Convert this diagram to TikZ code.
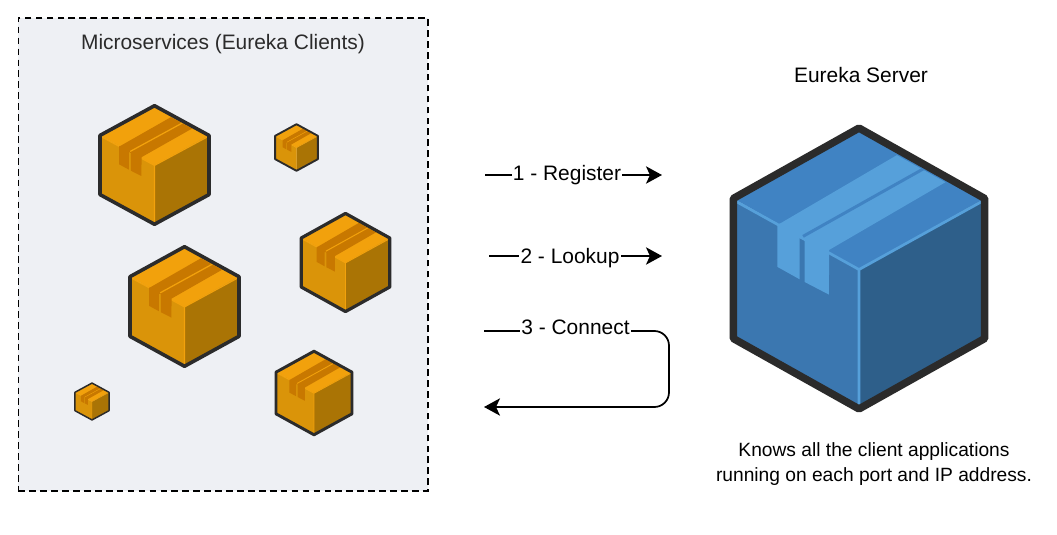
\documentclass[tikz,border=0pt]{standalone}
\usepackage{fontspec}
\setmainfont{Liberation Sans}
\usetikzlibrary{arrows.meta}
\definecolor{panelfill}{HTML}{EEF0F4}
\definecolor{inkc}{HTML}{2B2B2B}
\definecolor{otop}{HTML}{F2A10C}
\definecolor{oleft}{HTML}{DA9409}
\definecolor{oright}{HTML}{AA7405}
\definecolor{otape}{HTML}{C87800}
\definecolor{btop}{HTML}{4083C3}
\definecolor{bleft}{HTML}{3B77B0}
\definecolor{bright}{HTML}{2E5F8A}
\definecolor{btape}{HTML}{56A0DA}
\tikzset{
  flow/.style={draw=black,line width=1.3pt,-{Stealth[length=12pt,width=13pt,inset=3pt]}},
  plainlabel/.style={font=\fontsize{15.7}{18}\selectfont,text=black,inner sep=0pt},
  flowlabel/.style={plainlabel,fill=white,inner xsep=1pt,inner ysep=2pt},
  titlelabel/.style={plainlabel,text=inkc},
}
% stroke(pt), cx, cy, w, h, top, left, right, tape; \edgec = highlight colour
\newcommand{\cratebox}[9]{%
  \pgfmathsetmacro{\sxx}{#4/770*0.75}%
  \pgfmathsetmacro{\syy}{#5/854*0.75}%
  \begin{scope}[shift={(#2,#3)},x=\sxx pt,y=-\syy pt,line join=round]
    \fill[#6] (0,-415) -- (375,-207) -- (0,3) -- (-375,-207) -- cycle;
    \fill[#7] (-375,-207) -- (0,3) -- (0,415) -- (-375,207) -- cycle;
    \fill[#8] (375,-207) -- (0,3) -- (0,415) -- (375,207) -- cycle;
    \draw[\edgec,line width=#5/285*2.0pt] (-365,-197) -- (0,3) -- (365,-197) (0,3) -- (0,405);
    \fill[#9] (113,-335) -- (258,-255) -- (-89,-55) -- (-90,77) -- (-162,40) -- (-162,-83) -- (-177,-90) -- (-177,32) -- (-244,-5) -- (-244,-130) -- (-232,-135) -- cycle;
    \draw[#6,line width=#5/285*2.2pt] (193,-295) -- (-167,-95);
    \draw[inkc,line width=#1pt] (0,-415) -- (375,-207) -- (375,207) -- (0,415) -- (-375,207) -- (-375,-207) -- cycle;
  \end{scope}%
}
\begin{document}
\begin{tikzpicture}[x=0.75pt,y=-0.75pt]
\useasboundingbox (0,0) rectangle (1057,535);
\fill[white] (0,0) rectangle (1057,535);
\node[draw=black,dash pattern=on 5pt off 3.2pt,fill=panelfill,line width=1.3pt,minimum width=307.2pt,minimum height=354.75pt,inner sep=0pt,anchor=north west] (panel) at (17.5,17) {};
\node[titlelabel] (paneltitle) at (223,44) {Microservices (Eureka Clients)};
\def\edgec{otop}
\cratebox{2.7}{154.5}{165}{112}{122}{otop}{oleft}{oright}{otape}
\cratebox{1.4}{296.5}{147.5}{44}{48}{otop}{oleft}{oright}{otape}
\cratebox{2.4}{345.5}{262.5}{91}{101}{otop}{oleft}{oright}{otape}
\cratebox{2.7}{184.5}{306.5}{112}{123}{otop}{oleft}{oright}{otape}
\cratebox{2.2}{314}{393}{78}{86}{otop}{oleft}{oright}{otape}
\cratebox{1.1}{92}{401.5}{35}{38}{otop}{oleft}{oright}{otape}
\def\edgec{btape}
\cratebox{5.6}{859}{268.5}{258}{289}{btop}{bleft}{bright}{btape}
\node[plainlabel] (servertitle) at (861,75) {Eureka Server};
\node[plainlabel,align=center,font=\fontsize{14.4}{18.75}\selectfont] (servernote) at (874,464) {Knows all the client applications\\running on each port and IP address.};
\coordinate (a1s) at (485,175);
\coordinate (a1e) at (662,175);
\coordinate (a2s) at (489,256);
\coordinate (a2e) at (662,256);
\coordinate (a3s) at (484,331);
\coordinate (a3r) at (669,331);
\coordinate (a3b) at (669,407);
\coordinate (a3e) at (484,407);
\draw[flow] (a1s) -- (a1e);
\draw[flow] (a2s) -- (a2e);
\draw[flow,rounded corners=11pt] (a3s) -- (a3r) -- (a3b) -- (a3e);
\node[flowlabel] (l1) at (567,175) {1 - Register};
\node[flowlabel] (l2) at (570,258) {2 - Lookup};
\node[flowlabel] (l3) at (575.5,327) {3 - Connect};
\end{tikzpicture}
\end{document}
